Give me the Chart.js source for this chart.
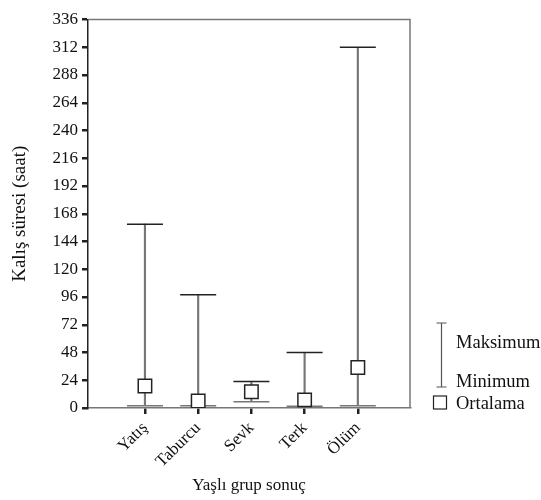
<!DOCTYPE html>
<html>
<head>
<meta charset="utf-8">
<script src="https://cdn.jsdelivr.net/npm/chart.js@4"></script>
<style>
  html, body { margin: 0; padding: 0; background: #fff; }
  #wrap { width: 541px; height: 500px; }
</style>
</head>
<body>
<div id="wrap"><canvas id="graph"></canvas></div>
<script>
const categories = ['Yatış', 'Taburcu', 'Sevk', 'Terk', 'Ölüm'];
const maxValues = [159, 98, 23, 48, 312];
const minValues = [2, 2, 5.5, 1.5, 2];
const meanValues = [19, 6, 14, 7, 35];
const yTicks = [0, 24, 48, 72, 96, 120, 144, 168, 192, 216, 240, 264, 288, 312, 336];

const serif = "'Liberation Serif', 'DejaVu Serif', serif";
const dark = '#222';
const grey = '#777';

// frame on top and right, and the legend to the right of the plot
const extras = {
    id: 'extras',
    afterDraw(chart) {
        const ctx = chart.ctx;
        const a = chart.chartArea;
        ctx.save();
        ctx.strokeStyle = grey;
        ctx.lineWidth = 1.5;
        ctx.beginPath();
        ctx.moveTo(a.left, a.top);
        ctx.lineTo(a.right, a.top);
        ctx.lineTo(a.right, a.bottom);
        ctx.stroke();

        // legend
        const lx = 441.5;
        ctx.strokeStyle = '#555';
        ctx.lineWidth = 1.2;
        ctx.beginPath();
        ctx.moveTo(lx, 323); ctx.lineTo(lx, 387);
        ctx.moveTo(lx - 5, 323); ctx.lineTo(lx + 5, 323);
        ctx.moveTo(lx - 5, 387); ctx.lineTo(lx + 5, 387);
        ctx.stroke();
        ctx.strokeStyle = dark;
        ctx.strokeRect(433.5, 396, 13, 13);

        ctx.fillStyle = '#111';
        ctx.font = '18.5px ' + serif;
        ctx.textBaseline = 'alphabetic';
        ctx.textAlign = 'left';
        ctx.fillText('Maksimum', 456, 348);
        ctx.fillText('Minimum', 456, 387);
        ctx.fillText('Ortalama', 456, 409);
        ctx.restore();
    }
};

const graph_context = document.getElementById('graph').getContext('2d');
const graph = new Chart(graph_context, {
    type: 'bar',
    data: {
        datasets: [{
            type: 'scatter',
            label: 'Ortalama',
            data: meanValues.map((v, i) => ({x: i + 1, y: v})),
            pointStyle: 'rect',
            pointRadius: 9.5,
            pointHoverRadius: 9.5,
            backgroundColor: '#ffffff',
            borderColor: dark,
            borderWidth: 1.5,
            order: 0
        }, {
            type: 'scatter',
            label: 'Maksimum',
            data: maxValues.map((v, i) => ({x: i + 1, y: v})),
            pointStyle: 'line',
            pointRadius: 18,
            pointHoverRadius: 18,
            borderColor: dark,
            borderWidth: 1.5,
            order: 1
        }, {
            type: 'scatter',
            label: 'Minimum',
            data: minValues.map((v, i) => ({x: i + 1, y: v})),
            pointStyle: 'line',
            pointRadius: 18,
            pointHoverRadius: 18,
            borderColor: grey,
            borderWidth: 1.5,
            order: 1
        }, {
            label: 'range',
            data: categories.map((c, i) => ({x: i + 1, y: [minValues[i], maxValues[i]]})),
            backgroundColor: grey,
            borderWidth: 0,
            barThickness: 1.5,
            order: 2
        }]
    },
    options: {
        responsive: true,
        maintainAspectRatio: false,
        animation: false,
        layout: { padding: { left: 0, top: 12, right: 131, bottom: 0 } },
        plugins: {
            legend: { display: false },
            tooltip: { enabled: false }
        },
        scales: {
            x: {
                type: 'linear',
                offset: false,
                min: -0.07,
                max: 5.98,
                afterBuildTicks: (scale) => {
                    scale.ticks = categories.map((c, i) => ({value: i + 1}));
                },
                afterFit: (scale) => { scale.height = 92; },
                ticks: {
                    callback: (value) => categories[value - 1] || '',
                    minRotation: 45,
                    maxRotation: 45,
                    color: '#111',
                    padding: 4,
                    font: { family: serif, size: 17 }
                },
                grid: {
                    offset: false,
                    drawOnChartArea: false,
                    drawTicks: true,
                    tickLength: 6,
                    tickColor: dark,
                    lineWidth: 2.5
                },
                border: { color: grey, width: 1.5 },
                title: {
                    display: true,
                    text: 'Yaşlı grup sonuç',
                    color: '#111',
                    font: { family: serif, size: 17 },
                    padding: { top: 0, bottom: 4 }
                }
            },
            y: {
                min: 0,
                max: 336,
                afterBuildTicks: (scale) => {
                    scale.ticks = yTicks.map(v => ({value: v}));
                },
                afterFit: (scale) => { scale.width = 88; },
                ticks: {
                    color: '#111',
                    padding: 4,
                    font: { family: serif, size: 17 }
                },
                grid: {
                    drawOnChartArea: false,
                    drawTicks: true,
                    tickLength: 6,
                    tickColor: dark,
                    lineWidth: 2.5
                },
                border: { color: dark, width: 1.5 },
                title: {
                    display: true,
                    text: 'Kalış süresi (saat)',
                    color: '#111',
                    font: { family: serif, size: 19 },
                    padding: { top: 9, bottom: 0 }
                }
            }
        }
    },
    plugins: [extras]
});
</script>
</body>
</html>
